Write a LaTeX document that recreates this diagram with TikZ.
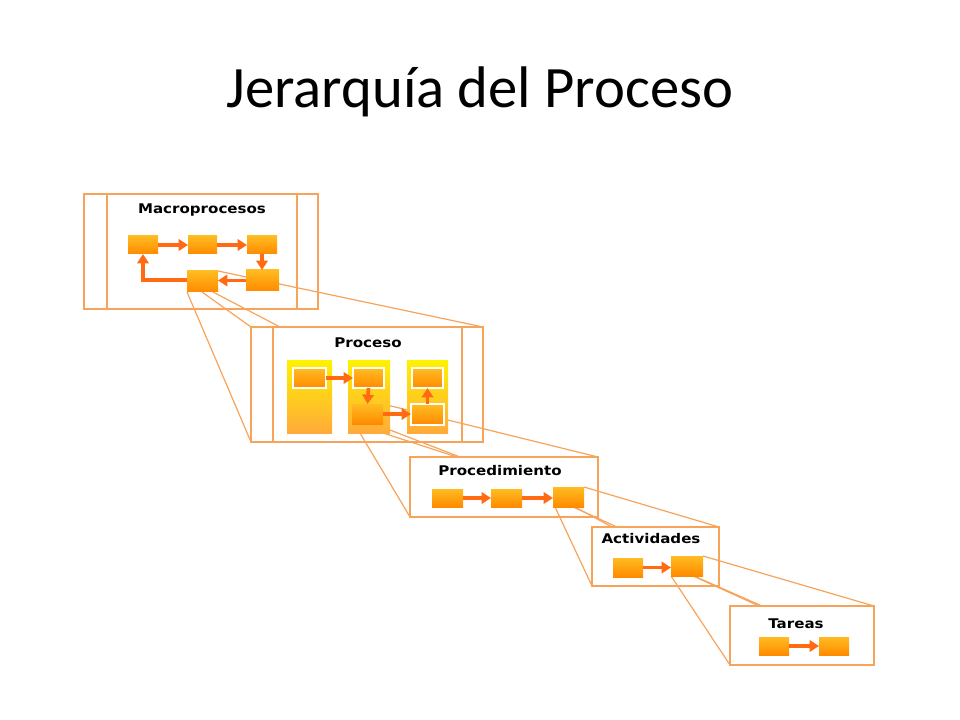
\documentclass[tikz,border=0pt]{standalone}
\usepackage{fontspec}
\setmainfont{Carlito}
\newfontfamily\lblfont{DejaVu Sans}
\usepackage{graphicx}
\usetikzlibrary{calc,arrows.meta}
\definecolor{framec}{HTML}{F7A35A}
\definecolor{arrc}{HTML}{FF6A13}
\definecolor{boxtop}{HTML}{FFBC22}
\definecolor{boxbot}{HTML}{FF8A00}
\definecolor{coltop}{HTML}{FFF200}
\definecolor{colbot}{HTML}{FFAA3A}
\newcommand{\lbl}[1]{\scalebox{1.13}[1]{\lblfont\bfseries\fontsize{10}{12}\selectfont #1}}
\pgfdeclarelayer{bg}
\pgfsetlayers{bg,main}
\tikzset{
  frm/.style={draw=framec, line width=1.1pt, inner sep=0pt, outer sep=0pt},
  sz/.style 2 args={minimum width=#1*0.75pt, minimum height=#2*0.75pt},
  obox/.style={inner sep=0pt, outer sep=0pt, top color=boxtop, bottom color=boxbot, draw=none},
  wbox/.style={obox, draw=white, line width=1.1pt},
  colm/.style={inner sep=0pt, outer sep=0pt, top color=coltop, bottom color=colbot, draw=none},
  conn/.style={draw=framec, line width=0.9pt},
  inl/.style={draw=framec, line width=1.1pt},
  arr/.style={draw=arrc, line width=2.7pt, -{Triangle[length=7pt,width=8.5pt]}},
  lab/.style={inner sep=0pt, anchor=base},
}
\begin{document}
\begin{tikzpicture}[x=0.75pt,y=-0.75pt]
\useasboundingbox (0,0) rectangle (960,720);
% title
\node[lab] (title) at (480,108) {\fontsize{44}{50}\selectfont Jerarquía del Proceso};

% frames
\node[frm, sz={234}{115}] (mf) at (201,251.5) {};
\node[frm, sz={232}{115}] (pf) at (367,384.5) {};
\node[frm, sz={188}{60}] (df) at (504,487) {};
\node[frm, sz={127}{59}] (af) at (655.5,556.5) {};
\node[frm, sz={144}{59}] (tf) at (802,635.5) {};
\draw[inl] ($(mf.north west)+(23,0)$) -- ($(mf.south west)+(23,0)$);
\draw[inl] ($(mf.north east)+(-21,0)$) -- ($(mf.south east)+(-21,0)$);
\draw[inl] ($(pf.north west)+(22,0)$) -- ($(pf.south west)+(22,0)$);
\draw[inl] ($(pf.north east)+(-21,0)$) -- ($(pf.south east)+(-21,0)$);

% labels
\node[lab] (tm) at (202,214) {\lbl{Macroprocesos}};
\node[lab] (tp) at (368,347) {\lbl{Proceso}};
\node[lab] (td) at (500,475) {\lbl{Procedimiento}};
\node[lab] (ta) at (651,543) {\lbl{Actividades}};
\node[lab] (tt) at (796,628) {\lbl{Tareas}};

% macroprocesos boxes
\node[obox, sz={30}{18}] (m1) at (143,245) {};
\node[obox, sz={29}{18}] (m2) at (202.5,245) {};
\node[obox, sz={30}{18}] (m3) at (262,245) {};
\node[obox, sz={33}{21}] (m4) at (262.5,280.5) {};
\node[obox, sz={31}{21}] (m5) at (202.5,281.5) {};
\draw[arr] (m1.east) -- (m2.west);
\draw[arr] (m2.east) -- (m3.west);
\draw[arr] (m3.south) -- (m3.south |- m4.north);
\draw[arr] (m4.west) -- (m4.west -| m5.east);
\draw[arr] ($(m5.west)+(0,-1.5)$) -| (m1.south);

% proceso columns and boxes
\node[colm, sz={45}{73}] (c1) at (309.5,396.5) {};
\node[colm, sz={42}{73}] (c2) at (369,396.5) {};
\node[colm, sz={41}{73}] (c3) at (427.5,396.5) {};
\node[wbox, sz={33}{20}] (p1) at (309.5,378) {};
\node[wbox, sz={31}{20}] (p2) at (368.5,378) {};
\node[obox, sz={31}{20}] (p3) at (367.5,414) {};
\node[wbox, sz={33}{21}] (p4) at (427.5,414.5) {};
\node[wbox, sz={31}{20}] (p5) at (427.5,378) {};
\draw[arr] (p1.east) -- (p2.west);
\draw[arr] (p2.south) -- (p3.north);
\draw[arr] (p3.east) -- (p3.east -| p4.west);
\draw[arr] (p4.north) -- (p5.south);

% procedimiento boxes
\node[obox, sz={31}{18}] (r1) at (447.5,498) {};
\node[obox, sz={31}{18}] (r2) at (506.5,498) {};
\node[obox, sz={31}{20}] (r3) at (568.5,497) {};
\draw[arr] (r1.east) -- (r2.west);
\draw[arr] (r2.east) -- (r2.east -| r3.west);

% actividades boxes
\node[obox, sz={30}{19}] (a1) at (628,567.5) {};
\node[obox, sz={32}{20}] (a2) at (687,566) {};
\draw[arr] (a1.east) -- (a1.east -| a2.west);

% tareas boxes
\node[obox, sz={30}{18}] (t1) at (774,646) {};
\node[obox, sz={30}{18}] (t2) at (834,646) {};
\draw[arr] (t1.east) -- (t2.west);

% zoom connectors
\begin{pgfonlayer}{bg}
\draw[conn] (m5.south west) -- (pf.south west);
\draw[conn] ($(m5.south west)+(15,0)$) -- (pf.north west);
\draw[conn] ($(m5.south west)+(26,0)$) -- ($(pf.north west)+(29,0)$);
\draw[conn] (m5.north east) -- (pf.north east);

\draw[conn] ($(c2.south west)+(12,0)$) -- (df.south west);
\draw[conn] ($(c2.south west)+(35,0)$) -- ($(df.north west)+(47,0)$);
\draw[conn] ($(c2.south east)+(0,-3)$) -- ($(df.north west)+(50,0)$);
\draw[conn] (p3.north east) -- (df.north east);

\draw[conn] ($(r3.south west)+(2,0)$) -- (af.south west);
\draw[conn] ($(r3.south west)+(9,-7)$) -- ($(af.north west)+(20,0)$);
\draw[conn] ($(r3.south west)+(20,0)$) -- ($(af.north west)+(25,0)$);
\draw[conn] (r3.north east) -- (af.north east);

\draw[conn] (a2.south west) -- (tf.south west);
\draw[conn] ($(a2.south west)+(9,-6)$) -- ($(tf.north west)+(29,0)$);
\draw[conn] ($(a2.south west)+(23,0)$) -- ($(tf.north west)+(32,0)$);
\draw[conn] (a2.north east) -- (tf.north east);
\end{pgfonlayer}
\end{tikzpicture}
\end{document}
